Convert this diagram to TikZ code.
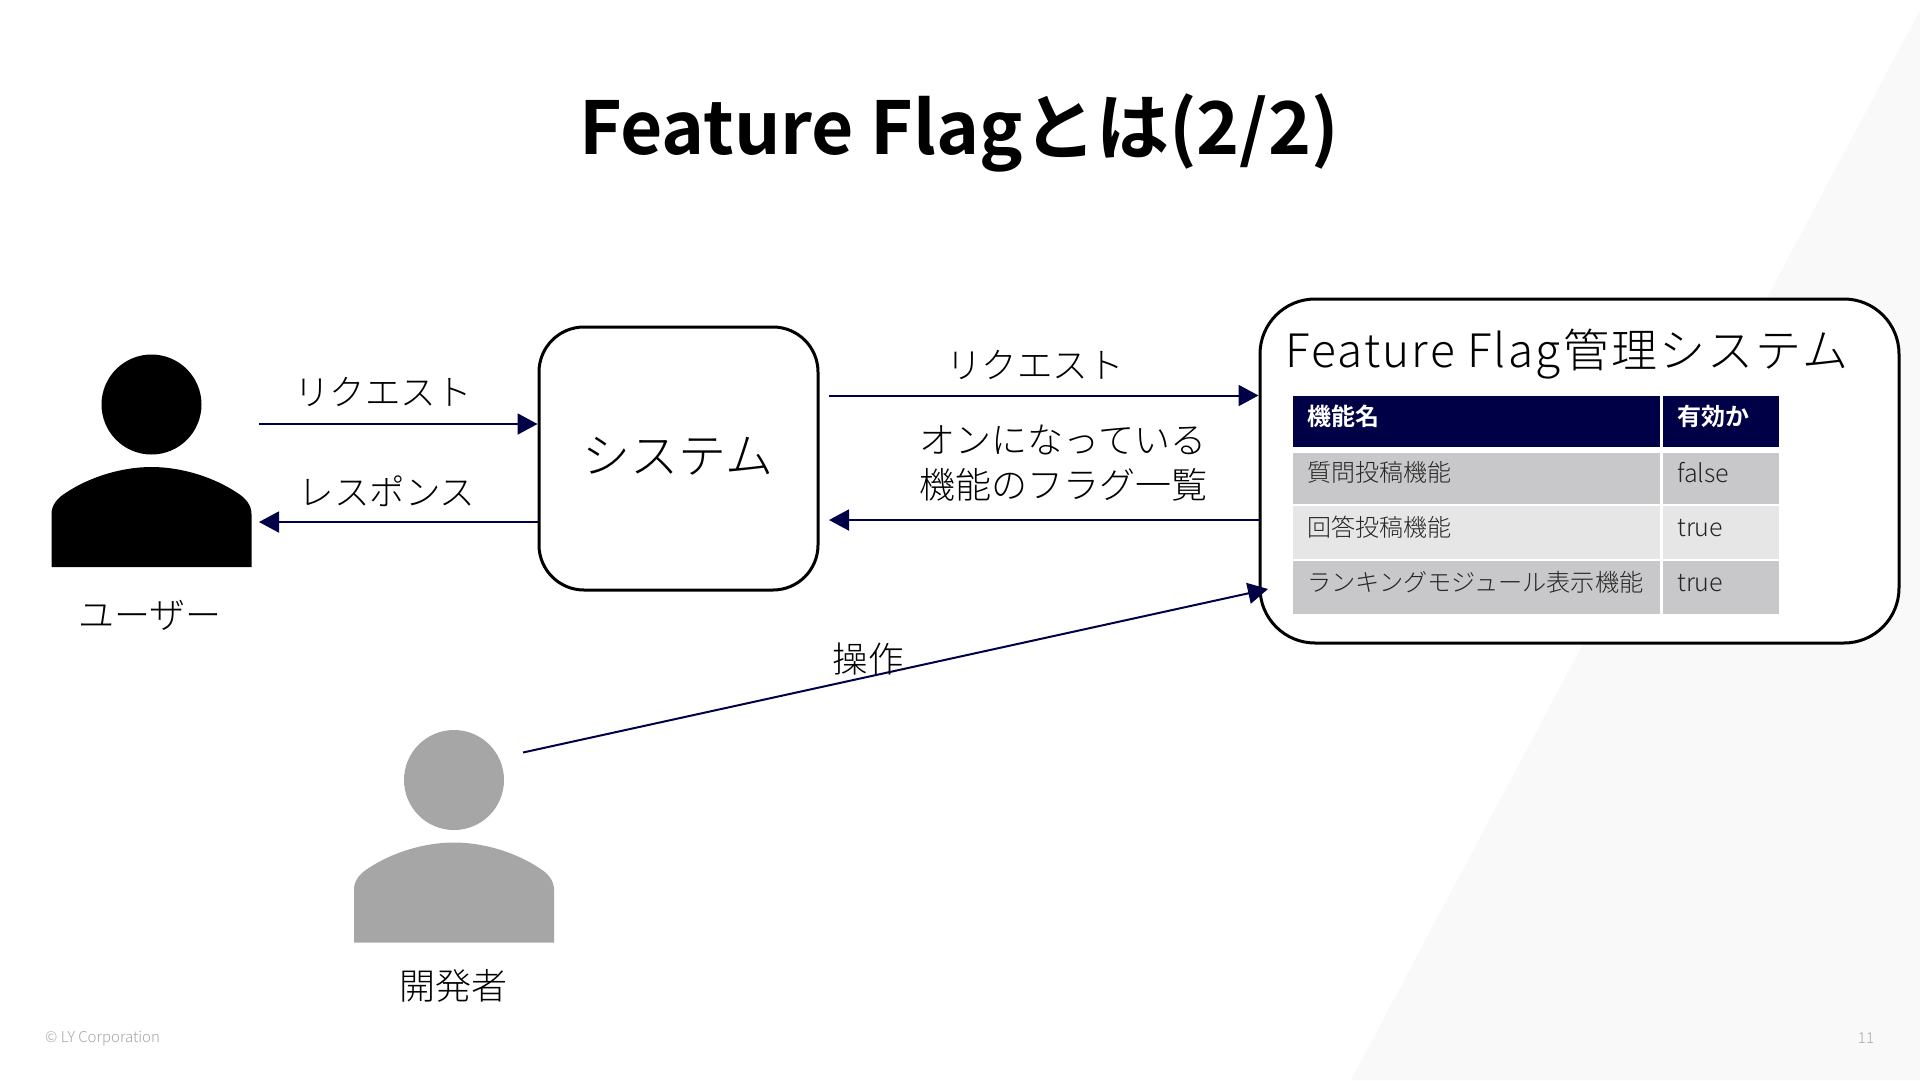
\documentclass[tikz,border=0pt]{standalone}
\usepackage{fontspec}
\usetikzlibrary{arrows.meta,calc}
\setmainfont{Noto Sans CJK JP}[UprightFont={* Light},BoldFont={* Bold}]
\newcommand{\fs}[1]{\fontsize{#1}{#1}\selectfont}
\definecolor{navy}{HTML}{000046}
\definecolor{rowdark}{HTML}{C8C8CA}
\definecolor{rowlight}{HTML}{E6E6E7}
\definecolor{bgtri}{HTML}{F9F9FA}
\definecolor{devgray}{HTML}{A6A6A6}
\tikzset{
  flow/.style={draw=navy,line width=2pt,-{Triangle[length=20pt,width=21pt,fill=navy]}},
  roundbox/.style={draw=black,line width=3pt,fill=white,rectangle,inner sep=0pt},
  lab/.style={inner sep=0pt,text=black,align=center,font=\fs{35.5}},
  celltext/.style={inner sep=0pt,anchor=west,text=black!85,font=\fs{24}},
  headtext/.style={inner sep=0pt,anchor=west,text=white,font=\fs{24}\bfseries},
  foot/.style={inner sep=0pt,text=black!35,font=\fs{15}},
  pics/person/.style={code={
    \fill[#1] (100,-62.5) ellipse [x radius=50,y radius=50];
    \fill[#1] (0,100) -- (0,47)
      .. controls (0,38) and (6,31) .. (14,26)
      .. controls (38,10) and (70,0) .. (100,0)
      .. controls (130,0) and (162,10) .. (186,26)
      .. controls (194,31) and (200,38) .. (200,47)
      -- (200,100) -- cycle;
  }}
}
\begin{document}
\begin{tikzpicture}[x=1pt,y=-1pt]
\useasboundingbox (0,0) rectangle (1920,1080);
\fill[white] (0,0) rectangle (1920,1080);
\fill[bgtri] (1920,10) -- (1351,1080) -- (1920,1080) -- cycle;

\node[inner sep=0pt,font=\fs{73}\bfseries] (title) at (959,133) {Feature Flagとは(2/2)};

% people
\pic at (51.5,467) {person=black};
\pic at (354,842.5) {person=devgray};
\node[lab,font=\fs{36}] (user) at (150,615) {ユーザー};
\node[lab,font=\fs{36}] (dev) at (453.5,986) {開発者};

% boxes
\node[roundbox,rounded corners=45pt,minimum width=279pt,minimum height=263pt] (sys) at (678.5,458.5) {};
\node[inner sep=0pt,font=\fs{48}] (systext) at (678,456) {システム};
\node[roundbox,rounded corners=55pt,minimum width=639pt,minimum height=344pt] (fm) at (1579.5,471) {};
\node[inner sep=0pt,anchor=west,font=\fs{46}\addfontfeatures{LetterSpace=4.8}] (fmtitle) at (1285,354) {Feature Flag管理システム};

% table
\path[fill=navy] (1292.5,396) rectangle (1660,447);
\path[fill=navy] (1663,396) rectangle (1779,447);
\path[fill=rowdark] (1292.5,453) rectangle (1660,504);
\path[fill=rowdark] (1663,453) rectangle (1779,504);
\path[fill=rowlight] (1292.5,506) rectangle (1660,559);
\path[fill=rowlight] (1663,506) rectangle (1779,559);
\path[fill=rowdark] (1292.5,561) rectangle (1660,614);
\path[fill=rowdark] (1663,561) rectangle (1779,614);
\node[headtext] (h1) at (1307,416) {機能名};
\node[headtext] (h2) at (1677,416) {有効か};
\node[celltext] (c1) at (1307,472) {質問投稿機能};
\node[celltext,font=\fs{25}] (d1) at (1677,473) {false};
\node[celltext] (c2) at (1307,527) {回答投稿機能};
\node[celltext,font=\fs{25}] (d2) at (1677,528) {true};
\node[celltext,font=\fs{24.2}] (c3) at (1307,582) {ランキングモジュール表示機能};
\node[celltext,font=\fs{25}] (d3) at (1677,583) {true};

% connector ends
\coordinate (u1) at (259,424);
\coordinate (u2) at (259,522);
\coordinate (s1) at (829,395.5);
\coordinate (s2) at (829,520);
\coordinate (devout) at (523,752.5);
\coordinate (fmin) at (1268,589);
\draw[flow] (u1) -- (u1 -| sys.west);
\draw[flow] (sys.west |- u2) -- (u2);
\draw[flow] (s1) -- (s1 -| fm.west);
\draw[flow] (fm.west |- s2) -- (s2);
\draw[flow] (devout) -- (fmin);

% labels
\node[lab] (l1) at (383,392) {リクエスト};
\node[lab] (l2) at (387,491) {レスポンス};
\node[lab] (l3) at (1035,365) {リクエスト};
\node[lab,font=\fs{36}] (l4) at (1063,463) {オンになっている\\[9pt]機能のフラグ一覧};
\node[lab] (l5) at (868,659) {操作};

% footer
\node[foot,anchor=west] (copy) at (45,1039) {© LY Corporation};
\node[foot] (page) at (1866,1038) {11};
\end{tikzpicture}
\end{document}
